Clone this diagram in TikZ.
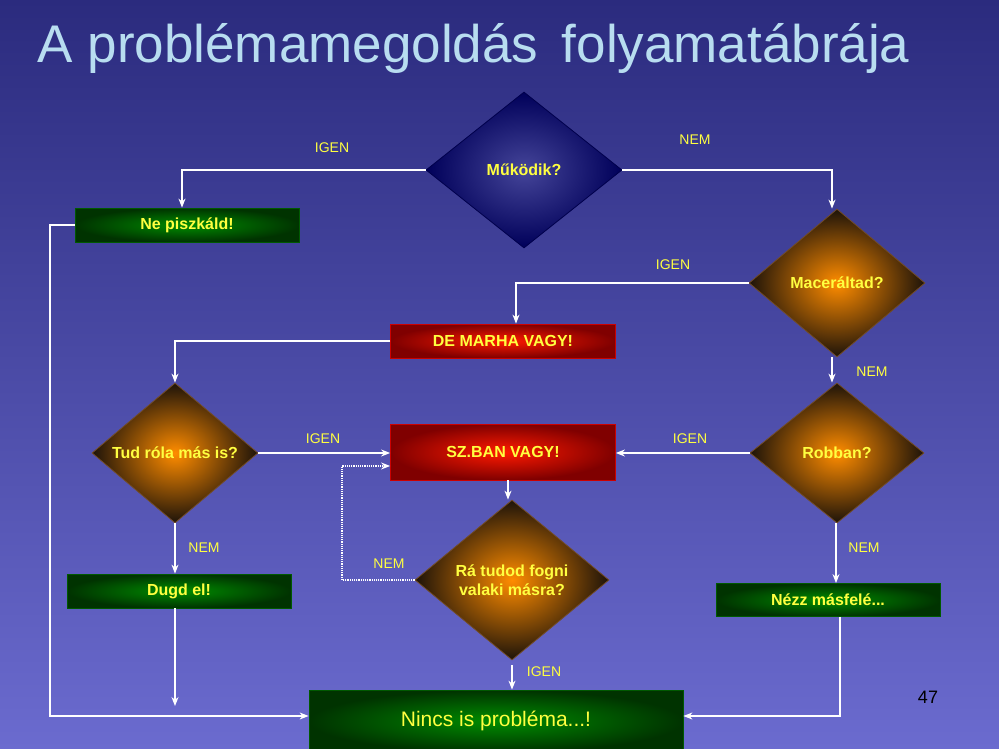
\documentclass[tikz,border=0pt]{standalone}
\usepackage{fontspec}
\setmainfont{Liberation Sans}
\usetikzlibrary{shapes.geometric,arrows.meta}
\definecolor{bgtop}{HTML}{2B2B7E}
\definecolor{bgbot}{HTML}{6B6BCF}
\definecolor{txtY}{HTML}{FFFF40}
\definecolor{titleC}{HTML}{B8DDF0}
\begin{document}
\begin{tikzpicture}[x=1pt,y=-1pt,
  lbl/.style={text=txtY,font=\fontsize{14}{16}\selectfont},
  conn/.style={draw=white,line width=1.2pt,-{Stealth[length=9pt,width=7pt]}},
  dia/.style={diamond,inner sep=0pt,text=txtY,font=\bfseries\fontsize{16}{19}\selectfont,align=center,draw=brown!60!black,line width=0.8pt},
  odia/.style={dia,shading=radial,inner color=orange!90!yellow,outer color=black!85!brown},
  gbox/.style={rectangle,inner sep=0pt,text=txtY,font=\bfseries\fontsize{16}{19}\selectfont,shading=radial,inner color=green!55!black,outer color=green!20!black,draw=green!35!black,line width=0.8pt},
  rbox/.style={rectangle,inner sep=0pt,text=txtY,font=\bfseries\fontsize{16}{19}\selectfont,shading=radial,inner color=red!80!orange,outer color=red!50!black,draw=red!80!black,line width=0.8pt}]
\useasboundingbox (0,0) rectangle (999,749);
\shade[top color=bgtop,bottom color=bgbot] (0,0) rectangle (999,749);
\node[text=titleC,font=\fontsize{53}{58}\selectfont,anchor=west] (title) at (34,48) {A problémamegoldás\, folyamatábrája};
\node[dia,shading=radial,inner color=blue!55!white!60!black,outer color=blue!35!black,draw=blue!30!black,minimum width=196pt,minimum height=156pt] (mukodik) at (524,170) {Működik?};
\node[gbox,minimum width=224pt,minimum height=34pt] (nepisz) at (187,225) {Ne piszkáld!};
\node[odia,minimum width=176pt,minimum height=148pt] (macer) at (837,283) {Maceráltad?};
\node[rbox,minimum width=225pt,minimum height=34pt] (marha) at (503,341) {DE MARHA VAGY!};
\node[odia,minimum width=166pt,minimum height=140pt] (tud) at (175,453) {Tud róla más is?};
\node[rbox,minimum width=225pt,minimum height=56pt] (szban) at (503,452) {SZ.BAN VAGY!};
\node[odia,minimum width=174pt,minimum height=140pt] (robban) at (837,453) {Robban?};
\node[odia,minimum width=194pt,minimum height=160pt] (ra) at (512,580) {Rá tudod fogni\\valaki másra?};
\node[gbox,minimum width=224pt,minimum height=34pt] (dugd) at (179,591) {Dugd el!};
\node[gbox,minimum width=224pt,minimum height=33pt] (nezz) at (828,600) {Nézz másfelé...};
\node[gbox,font=\fontsize{21}{25}\selectfont,minimum width=374pt,minimum height=62pt] (nincs) at (496,721) {Nincs is probléma...!};
\node[font=\fontsize{18}{20}\selectfont] (num) at (928,697) {47};
\coordinate (dugdEnd) at (175,706);
% connectors
\draw[conn] (mukodik.west) -- (mukodik.west -| 182,0) -- (nepisz.north -| 182,0);
\draw[conn] (mukodik.east) -- (mukodik.east -| 832,0) -- (macer.north -| 832,0);
\draw[conn] (macer.west) -- (macer.west -| 516,0) -- (marha.north -| 516,0);
\draw[conn] (macer.south -| 832,0) -- (robban.north -| 832,0);
\draw[conn] (marha.west) -- (marha.west -| 175,0) -- (tud.north);
\draw[conn] (tud.east) -- (szban.west |- tud.east);
\draw[conn] (robban.west) -- (szban.east |- robban.west);
\draw[conn] (szban.south -| 508,0) -- (ra.north -| 508,0);
\draw[conn,densely dotted] (ra.west) -- (ra.west -| 342,0) -- (342,466) -- (szban.west |- 0,466);
\draw[conn] (tud.south) -- (dugd.north -| tud.south);
\draw[conn] (robban.south -| 836,0) -- (nezz.north -| 836,0);
\draw[conn] (512,665) -- (nincs.north -| 512,0);
\draw[conn] (nepisz.west) -- (nepisz.west -| 50,0) -- (50,716) -- (nincs.west |- 0,716);
\draw[conn] (dugd.south -| 175,0) -- (dugdEnd);
\draw[conn] (nezz.south -| 840,0) -- (840,716) -- (nincs.east |- 0,716);
% labels
\node[lbl] (l1) at (332,148) {IGEN};
\node[lbl] (l2) at (695,140) {NEM};
\node[lbl] (l3) at (673,265) {IGEN};
\node[lbl] (l4) at (872,372) {NEM};
\node[lbl] (l5) at (323,439) {IGEN};
\node[lbl] (l6) at (690,439) {IGEN};
\node[lbl] (l7) at (389,564) {NEM};
\node[lbl] (l8) at (204,548) {NEM};
\node[lbl] (l9) at (864,548) {NEM};
\node[lbl] (l10) at (544,672) {IGEN};
\end{tikzpicture}
\end{document}
